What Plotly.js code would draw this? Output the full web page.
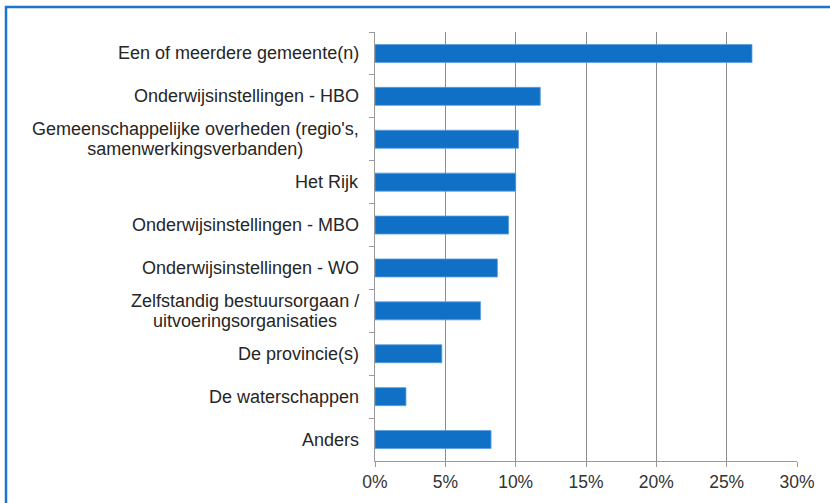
<!DOCTYPE html>
<html>
<head>
<meta charset="utf-8">
<script src="https://cdn.plot.ly/plotly-3.0.1.min.js"></script>
<style>
html,body{margin:0;padding:0;background:#fff;}
#chart{width:830px;height:503px;}
</style>
</head>
<body>
<div id="chart"></div>
<script>
const categories = [
  "Een of meerdere gemeente(n)",
  "Onderwijsinstellingen - HBO",
  "Gemeenschappelijke overheden (regio's,<br>samenwerkingsverbanden)",
  "Het Rijk",
  "Onderwijsinstellingen - MBO",
  "Onderwijsinstellingen - WO",
  "Zelfstandig bestuursorgaan /<br>uitvoeringsorganisaties",
  "De provincie(s)",
  "De waterschappen",
  "Anders"
];
const values = [26.8, 11.75, 10.2, 10.0, 9.5, 8.7, 7.5, 4.75, 2.2, 8.25];
const xTickVals = [0, 5, 10, 15, 20, 25, 30];
const xTickText = ["0%", "5%", "10%", "15%", "20%", "25%", "30%"];

const FONT = 'Liberation Sans, Arial, sans-serif';

const trace = {
  type: 'bar',
  orientation: 'h',
  x: values,
  y: categories,
  width: 0.42,
  marker: {color: '#0f70c6', line: {color: '#5a9ee0', width: 0.8}},
  hoverinfo: 'x+y'
};

const annotations = categories.map(c => ({
  xref: 'paper', yref: 'y',
  x: 0, y: c,
  xanchor: 'right', yanchor: 'middle',
  xshift: -14,
  text: c.split('<br>').map(s => '<span style="font-size:18px">' + s + '</span>').join('<br>'),
  align: 'center',
  showarrow: false,
  font: {family: FONT, size: 15, color: '#262626'}
}));

const layout = {
  width: 830, height: 503,
  margin: {l: 375, r: 33, t: 32, b: 42, pad: 0},
  paper_bgcolor: '#ffffff',
  plot_bgcolor: '#ffffff',
  showlegend: false,
  bargap: 0.58,
  xaxis: {
    range: [0, 30],
    tickvals: xTickVals,
    ticktext: xTickText,
    showgrid: true,
    gridcolor: '#8c8c8c',
    gridwidth: 1,
    zeroline: false,
    showline: true,
    linecolor: '#9a9a9a',
    linewidth: 1,
    ticks: 'outside',
    ticklen: 5,
    tickcolor: '#9a9a9a',
    tickfont: {family: FONT, size: 17.5, color: '#333333'},
    fixedrange: true
  },
  yaxis: {
    type: 'category',
    autorange: 'reversed',
    showticklabels: false,
    showgrid: false,
    zeroline: false,
    showline: true,
    linecolor: '#9a9a9a',
    linewidth: 1,
    ticks: 'outside',
    tickson: 'boundaries',
    ticklen: 5,
    tickcolor: '#9a9a9a',
    fixedrange: true
  },
  annotations: annotations,
  shapes: [{
    type: 'rect', xref: 'paper', yref: 'paper',
    x0: (6 - 375) / 422, x1: 1.2,
    y0: -0.2, y1: (461 - 7) / 429,
    line: {color: '#1b75c9', width: 2.5},
    fillcolor: 'rgba(0,0,0,0)',
    layer: 'below'
  }]
};

Plotly.newPlot('chart', [trace], layout, {displayModeBar: false, staticPlot: true});
</script>
</body>
</html>
